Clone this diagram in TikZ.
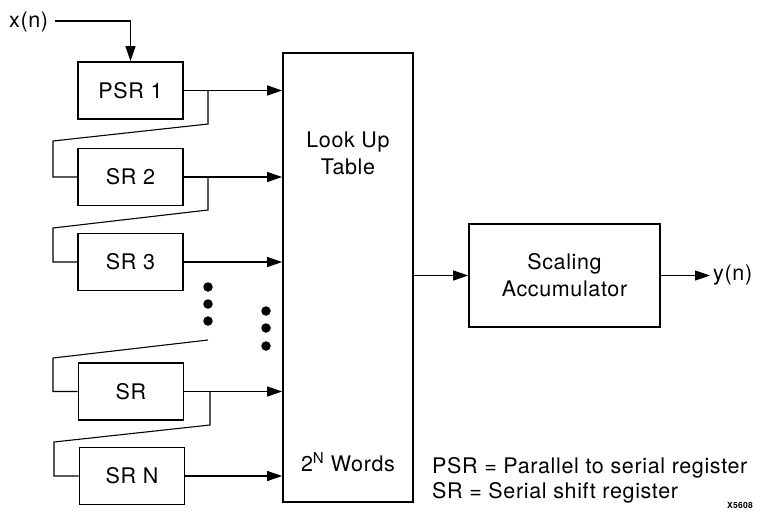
\documentclass[tikz,border=0pt]{standalone}
\usepackage{fontspec}
\setmainfont{TeX Gyre Heros}[LetterSpace=3]
\usetikzlibrary{arrows.meta}
\begin{document}
\begin{tikzpicture}[x=1pt,y=-1pt,
  reg/.style={draw,line width=1.7pt,minimum width=105pt,minimum height=57pt,inner sep=0pt,font=\fontsize{21.5}{27}\selectfont},
  conn/.style={line width=1.1pt},
  arr/.style={conn,-{Triangle[length=15pt,width=10pt]}},
  lbl/.style={inner sep=0pt,font=\fontsize{21.5}{27}\selectfont},
  dot/.style={circle,fill,inner sep=0pt,minimum size=9.5pt}]
\useasboundingbox (0,0) rectangle (763,512);
% registers
\node[reg] (p1) at (130.5,90.5) {PSR 1};
\node[reg] (s2) at (130.5,177) {SR 2};
\node[reg] (s3) at (130.5,262) {SR 3};
\node[reg] (sr) at (131,391.5) {SR};
\node[reg] (sn) at (132,476) {SR N};
% look up table
\node[draw,line width=1.7pt,minimum width=130pt,minimum height=449pt,inner sep=0pt] (lut) at (348,277.5) {};
\node[lbl,align=center] (luttxt) at (348,153) {Look Up\\Table};
\node[lbl] (words) at (348,462) {2\textsuperscript{N} Words};
% scaling accumulator
\node[draw,line width=1.7pt,minimum width=191pt,minimum height=103pt,inner sep=0pt,lbl,align=center] (acc) at (564.5,275.5) {Scaling\\Accumulator};
\node[lbl,anchor=west] (y) at (713,275) {y(n)};
\node[lbl,anchor=west] (x) at (9,22) {x(n)};
% input
\coordinate (xb) at (130.5,21);
\draw[conn] ([xshift=7pt]x.east |- xb) -- (xb);
\draw[arr] (xb) -- (p1.north);
% outputs to LUT
\foreach \r in {p1,s2,s3,sr,sn} {\draw[arr] (\r.east) -- (\r.east -| lut.west);}
\draw[arr] (lut.east |- acc.west) -- (acc.west);
\draw[arr,shorten >=3pt] (acc.east) -- (acc.east -| y.west);
% feedback
\coordinate (a1) at (208,90.5); \coordinate (a2) at (208,124); \coordinate (a3) at (53,141); \coordinate (a4) at (53,177);
\draw[conn] (a1) -- (a2) -- (a3) -- (a4) -- (s2.west);
\coordinate (b1) at (208,177); \coordinate (b2) at (208,210); \coordinate (b3) at (53,228); \coordinate (b4) at (53,262);
\draw[conn] (b1) -- (b2) -- (b3) -- (b4) -- (s3.west);
\coordinate (c2) at (208,340); \coordinate (c3) at (53,358); \coordinate (c4) at (53,391.5);
\draw[conn] (c2) -- (c3) -- (c4) -- (sr.west);
\coordinate (d1) at (210,391.5); \coordinate (d2) at (210,425); \coordinate (d3) at (54,442); \coordinate (d4) at (54,476);
\draw[conn] (d1) -- (d2) -- (d3) -- (d4) -- (sn.west);
% dots
\node[dot] (e1) at (208,287) {};
\node[dot] (e2) at (208,304) {};
\node[dot] (e3) at (208,321) {};
\node[dot] (f1) at (266,311) {};
\node[dot] (f2) at (266,328) {};
\node[dot] (f3) at (266,346) {};
% legend
\node[lbl,anchor=west] (l1) at (432,468) {PSR = Parallel to serial register};
\node[lbl,anchor=west] (l2) at (432,493) {SR = Serial shift register};
\node[inner sep=0pt,font=\fontsize{8.5}{9}\selectfont\bfseries] (code) at (740,505) {X5608};
\end{tikzpicture}
\end{document}
